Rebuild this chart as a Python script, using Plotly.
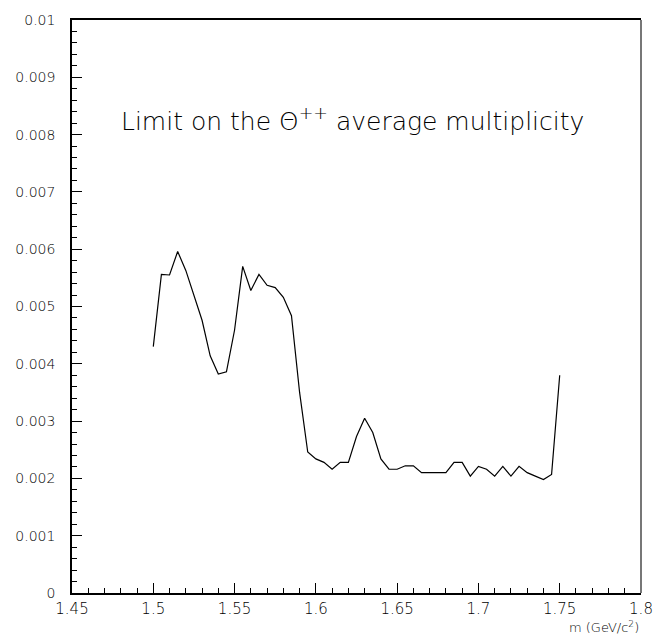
import plotly.graph_objects as go

mass = [1.500, 1.505, 1.510, 1.515, 1.520, 1.525, 1.530, 1.535, 1.540, 1.545,
        1.550, 1.555, 1.560, 1.565, 1.570, 1.575, 1.580, 1.585, 1.590, 1.595,
        1.600, 1.605, 1.610, 1.615, 1.620, 1.625, 1.630, 1.635, 1.640, 1.645,
        1.650, 1.655, 1.660, 1.665, 1.670, 1.675, 1.680, 1.685, 1.690, 1.695,
        1.700, 1.705, 1.710, 1.715, 1.720, 1.725, 1.730, 1.735, 1.740, 1.745,
        1.750]
limit = [0.00430, 0.00556, 0.00555, 0.00596, 0.00563, 0.00520, 0.00476, 0.00414, 0.00382, 0.00386,
         0.00459, 0.00570, 0.00528, 0.00556, 0.00537, 0.00533, 0.00516, 0.00484, 0.00350, 0.00246,
         0.00234, 0.00228, 0.00216, 0.00228, 0.00228, 0.00273, 0.00305, 0.00280, 0.00234, 0.00216,
         0.00216, 0.00222, 0.00222, 0.00210, 0.00210, 0.00210, 0.00210, 0.00228, 0.00228, 0.00204,
         0.00221, 0.00216, 0.00204, 0.00221, 0.00204, 0.00221, 0.00210, 0.00204, 0.00198, 0.00207,
         0.00380]

xtick_vals = [1.45, 1.5, 1.55, 1.6, 1.65, 1.7, 1.75, 1.8]
xtick_text = ["1.45", "1.5", "1.55", "1.6", "1.65", "1.7", "1.75", "1.8"]
ytick_vals = [0, 0.001, 0.002, 0.003, 0.004, 0.005, 0.006, 0.007, 0.008, 0.009, 0.01]
ytick_text = ["0", "0.001", "0.002", "0.003", "0.004", "0.005", "0.006", "0.007", "0.008", "0.009", "0.01"]

title_text = "Limit on the \u0398<sup>++</sup> average multiplicity"
xaxis_title = "m (GeV/c<sup>2</sup>)"

FONT = "DejaVu Sans"

fig = go.Figure()
fig.add_trace(go.Scatter(x=mass, y=limit, mode="lines",
                         line=dict(color="black", width=1.2),
                         showlegend=False, hoverinfo="skip"))

fig.update_layout(
    width=665, height=644,
    margin=dict(l=72, r=13, t=13, b=51, pad=0),
    paper_bgcolor="white", plot_bgcolor="white",
    font=dict(family=FONT, color="black", size=14),
    showlegend=False,
)
fig.update_xaxes(
    range=[1.45, 1.8], tickmode="array", tickvals=xtick_vals, ticktext=xtick_text,
    ticks="inside", ticklen=10, tickwidth=1, tickcolor="black",
    minor=dict(dtick=0.01, tick0=1.45, ticks="inside", ticklen=5, tickwidth=1, tickcolor="black"),
    showline=True, linecolor="black", linewidth=1.5, mirror=True,
    showgrid=False, zeroline=False,
    tickfont=dict(family=FONT, size=15, color="black", weight=200),
    ticklabelstandoff=1,
)
fig.update_yaxes(
    range=[0, 0.01], tickmode="array", tickvals=ytick_vals, ticktext=ytick_text,
    ticks="inside", ticklen=10, tickwidth=1, tickcolor="black",
    minor=dict(dtick=0.0002, tick0=0, ticks="inside", ticklen=5, tickwidth=1, tickcolor="black"),
    showline=True, linecolor="black", linewidth=1.5, mirror=False,
    showgrid=False, zeroline=False,
    tickfont=dict(family=FONT, size=14, color="black", weight=200),
    ticklabelstandoff=12,
)
fig.add_shape(type="line", xref="paper", yref="paper", x0=1, x1=1, y0=0, y1=1,
              line=dict(color="#777777", width=2))
fig.add_annotation(x=1.6226, y=0.00812, xref="x", yref="y", text=title_text,
                   yshift=8, showarrow=False,
                   font=dict(family=FONT, size=25, color="black", weight=200))
fig.add_annotation(x=1, y=0, xref="paper", yref="paper", text=xaxis_title,
                   xanchor="right", yanchor="middle", yshift=-34, showarrow=False,
                   font=dict(family=FONT, size=13, color="black", weight=200))

fig.write_html("out.html")
